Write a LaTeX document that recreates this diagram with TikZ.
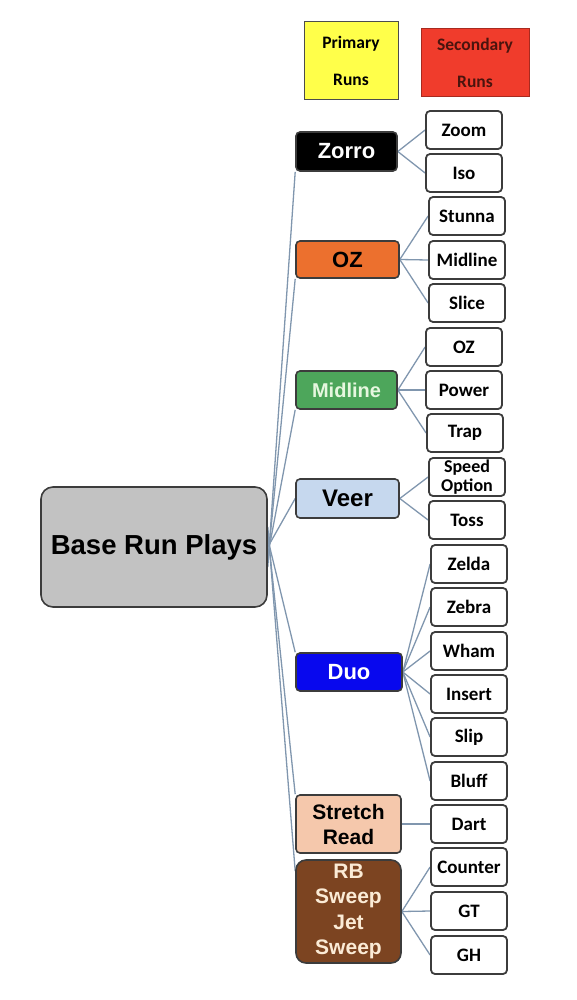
\documentclass[tikz,border=0pt]{standalone}
\usepackage{fontspec}
\setmainfont{Liberation Sans}
\newfontfamily\runfont{Carlito}
\usepackage{tikz}
\usepackage{xcolor}
\usetikzlibrary{positioning, backgrounds}
\definecolor{linkblue}{HTML}{8096AE}
\definecolor{boxedge}{HTML}{3C3C3C}
\definecolor{basegray}{HTML}{C2C2C2}
\definecolor{primyellow}{HTML}{FFFF4A}
\definecolor{secred}{HTML}{F03C2C}
\definecolor{secredtext}{HTML}{4A140E}
\definecolor{ozorange}{HTML}{EC702E}
\definecolor{midgreen}{HTML}{4DA65B}
\definecolor{midgreentext}{HTML}{E6F7DF}
\definecolor{veerblue}{HTML}{C6D8EE}
\definecolor{duoblue}{HTML}{0808EE}
\definecolor{stretchpeach}{HTML}{F5C8AC}
\definecolor{sweepbrown}{HTML}{7C4421}
\definecolor{sweeptext}{HTML}{FBEBD6}

\tikzset{
  primbox/.style={draw=boxedge, line width=1.6pt, rounded corners=4pt, align=center,
    inner sep=0pt, font=\bfseries\fontsize{22}{25.5}\selectfont},
  secbox/.style={draw=boxedge, line width=1.8pt, rounded corners=4pt, fill=white, align=center,
    minimum width=76pt, minimum height=38pt, inner sep=0pt,
    font=\runfont\bfseries\fontsize{19}{19}\selectfont},
  legendbox/.style={line width=1pt, align=center, inner sep=0pt,
    font=\runfont\bfseries\fontsize{17.5}{37}\selectfont},
  link/.style={linkblue, line width=1.3pt}
}

\begin{document}
\begin{tikzpicture}[x=1pt, y=-1pt]
  \useasboundingbox (0,0) rectangle (577,1000);

  % legend
  \node[legendbox, draw=black!70, fill=primyellow, minimum width=94pt, minimum height=78pt]
    (primlegend) at (351,61) {Primary\\Runs};
  \node[legendbox, draw=secred!70!black, fill=secred, text=secredtext,
    minimum width=108pt, minimum height=68pt]
    (seclegend) at (475,63) {Secondary\\Runs};

  % root
  \node[draw=boxedge, line width=1.6pt, rounded corners=12pt, fill=basegray,
    minimum width=226pt, minimum height=120pt, font=\bfseries\fontsize{27.5}{30}\selectfont]
    (base) at (154,547) {Base Run Plays};

  % primary runs
  \node[primbox, fill=black, text=white, minimum width=101pt, minimum height=39pt]
    (zorro) at (346.5,151.5) {Zorro};
  \node[primbox, fill=ozorange, minimum width=103pt, minimum height=37pt]
    (oz) at (347.5,259.5) {OZ};
  \node[primbox, fill=midgreen, text=midgreentext, minimum width=101pt, minimum height=38pt,
    font=\bfseries\fontsize{20}{24}\selectfont]
    (midline) at (346.5,390) {Midline};
  \node[primbox, fill=veerblue, minimum width=103pt, minimum height=39pt,
    font=\bfseries\fontsize{24}{26}\selectfont]
    (veer) at (347.5,498.5) {Veer};
  \node[primbox, fill=duoblue, text=white, minimum width=106pt, minimum height=38pt]
    (duo) at (349,672) {Duo};
  \node[primbox, fill=stretchpeach, minimum width=105pt, minimum height=58pt,
    font=\bfseries\fontsize{21}{25}\selectfont]
    (stretch) at (348.5,824) {Stretch\\Read};
  \node[primbox, fill=sweepbrown, text=sweeptext, rounded corners=10pt,
    minimum width=105pt, minimum height=103pt, font=\bfseries\fontsize{21}{25.5}\selectfont]
    (sweep) at (348.5,911.5) {RB\\Sweep\\Jet\\Sweep};

  % secondary runs
  \node[secbox] (zoom) at (464,130) {Zoom};
  \node[secbox] (iso) at (464,173) {Iso};
  \node[secbox] (stunna) at (467,216) {Stunna};
  \node[secbox] (secmid) at (467,260) {Midline};
  \node[secbox] (slice) at (467,303) {Slice};
  \node[secbox] (secoz) at (464,347) {OZ};
  \node[secbox] (power) at (464,390) {Power};
  \node[secbox] (trap) at (465,433) {Trap};
  \node[secbox, font=\runfont\bfseries\fontsize{18}{18.5}\selectfont]
    (speed) at (467,477) {Speed\\Option};
  \node[secbox] (toss) at (467,520) {Toss};
  \node[secbox] (zelda) at (469,564) {Zelda};
  \node[secbox] (zebra) at (469,607) {Zebra};
  \node[secbox] (wham) at (469,651) {Wham};
  \node[secbox] (insert) at (469,694) {Insert};
  \node[secbox] (slip) at (469,737) {Slip};
  \node[secbox] (bluff) at (469,781) {Bluff};
  \node[secbox] (dart) at (469,824) {Dart};
  \node[secbox] (counter) at (469,867) {Counter};
  \node[secbox] (gt) at (469,911) {GT};
  \node[secbox] (gh) at (469,955) {GH};

  \begin{scope}[on background layer]
    % root to primary runs
    \draw[link] ([yshift=-20pt]base.east) -- (zorro.south west);
    \draw[link] ([yshift=-14pt]base.east) -- (oz.south west);
    \draw[link] ([yshift=-8pt]base.east) -- (midline.south west);
    \draw[link] (base.east) -- (veer.west);
    \draw[link] ([yshift=8pt]base.east) -- (duo.north west);
    \draw[link] ([yshift=14pt]base.east) -- (stretch.north west);
    \draw[link] ([yshift=20pt]base.east) -- ([yshift=-12pt]sweep.north west);

    % primary to secondary runs
    \foreach \from/\to in {zorro/zoom, zorro/iso, oz/stunna, oz/secmid, oz/slice,
        midline/secoz, midline/power, midline/trap, veer/speed, veer/toss,
        duo/zelda, duo/zebra, duo/wham, duo/insert, duo/slip, duo/bluff,
        stretch/dart, sweep/counter, sweep/gt, sweep/gh}
      \draw[link] (\from.east) -- (\to.west);
  \end{scope}
\end{tikzpicture}
\end{document}
